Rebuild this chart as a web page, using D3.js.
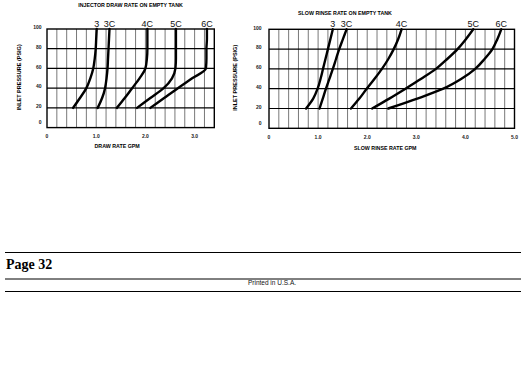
<!DOCTYPE html>
<html><head><meta charset="utf-8">
<script src="https://cdn.jsdelivr.net/npm/d3@7"></script>
<style>
body{margin:0;background:#fff}
svg{display:block}
</style>
</head><body>
<svg id="c" width="521" height="384" font-family="'Liberation Sans',Arial,Helvetica,sans-serif"></svg>
<script>
// ---------- data ----------
const curveNames = ["3", "3C", "4C", "5C", "6C"];
const pressureTicks = [0, 20, 40, 60, 80, 100];
const pressurePoints = [20, 30, 40, 50, 60, 70, 80, 90, 100];

// Injector draw rate on empty tank (GPM at each pressure point)
const draw3  = [0.53, 0.67, 0.80, 0.88, 0.94, 0.97, 0.99, 1.00, 1.01];
const draw3C = [1.03, 1.12, 1.18, 1.21, 1.23, 1.24, 1.25, 1.26, 1.27];
const draw4C = [1.42, 1.58, 1.73, 1.88, 2.00, 2.03, 2.04, 2.04, 2.04];
const draw5C = [1.83, 2.10, 2.37, 2.54, 2.61, 2.62, 2.62, 2.62, 2.62];
const draw6C = [2.10, 2.38, 2.66, 2.95, 3.23, 3.24, 3.24, 3.25, 3.25];

// Slow rinse rate on empty tank (GPM at each pressure point)
const rinse3  = [0.755, 0.90, 0.99, 1.05, 1.10, 1.15, 1.20, 1.25, 1.30];
const rinse3C = [1.03, 1.095, 1.16, 1.23, 1.30, 1.365, 1.43, 1.505, 1.58];
const rinse4C = [1.67, 1.84, 1.99, 2.15, 2.30, 2.43, 2.54, 2.63, 2.70];
const rinse5C = [2.10, 2.45, 2.78, 3.10, 3.40, 3.63, 3.84, 4.01, 4.16];
const rinse6C = [2.43, 3.02, 3.55, 3.92, 4.20, 4.39, 4.55, 4.65, 4.73];

const drawTicks = [0, 1, 2, 3];
const drawTickLabels = ["0", "1.0", "2.0", "3.0"];
const rinseTicks = [0, 1, 2, 3, 4, 5];
const rinseTickLabels = ["0", "1.0", "2.0", "3.0", "4.0", "5.0"];

const footerPage = "Page 32";
const footerPrinted = "Printed in U.S.A.";

// ---------- drawing ----------
const svg = d3.select("#c");

function drawChart(cfg) {
  const x = d3.scaleLinear().domain([0, cfg.xMax]).range([cfg.left, cfg.right]);
  const y = d3.scaleLinear().domain([0, 100]).range([cfg.bottom, cfg.top]);
  const g = svg.append("g");

  // vertical minor grid every 0.2 GPM
  const vgrid = d3.range(1, Math.round(cfg.xMax / 0.2)).map(i => +(i * 0.2).toFixed(2));
  g.selectAll(".vg").data(vgrid).join("line")
    .attr("x1", d => x(d)).attr("x2", d => x(d))
    .attr("y1", y(0)).attr("y2", y(100))
    .attr("stroke", "#6a6a6a").attr("stroke-width", 0.9);

  // horizontal grid
  g.selectAll(".hg").data(pressureTicks.filter(v => v > 0 && v < 100)).join("line")
    .attr("x1", x(0)).attr("x2", x(cfg.xMax))
    .attr("y1", d => y(d)).attr("y2", d => y(d))
    .attr("stroke", "#000").attr("stroke-width", 1.2);

  // frame
  g.append("rect")
    .attr("x", x(0)).attr("y", y(100))
    .attr("width", x(cfg.xMax) - x(0)).attr("height", y(0) - y(100))
    .attr("fill", "none").attr("stroke", "#000").attr("stroke-width", 1.4);

  // curves
  const line = d3.line()
    .x(d => x(d[0])).y(d => y(d[1]))
    .curve(d3.curveMonotoneY);
  cfg.series.forEach((vals, i) => {
    const pts = vals.map((v, j) => [v, pressurePoints[j]]);
    g.append("path").attr("d", line(pts))
      .attr("fill", "none").attr("stroke", "#000")
      .attr("stroke-width", 2.4).attr("stroke-linecap", "round").attr("stroke-linejoin", "round");
    g.append("text")
      .attr("x", x(vals[vals.length - 1]))
      .attr("y", y(100) - 2)
      .attr("text-anchor", "middle")
      .attr("font-size", 9).attr("fill", "#111")
      .text(curveNames[i]);
  });

  // y tick labels
  g.selectAll(".yl").data(pressureTicks).join("text")
    .attr("x", x(0) - cfg.yLabelGap)
    .attr("y", d => y(d) + (d === 0 ? -3.5 : 0.3))
    .attr("text-anchor", "end")
    .attr("font-size", 5).attr("font-weight", "bold").attr("fill", "#222")
    .text(d => d);

  // x tick labels
  g.selectAll(".xl").data(cfg.xTicks).join("text")
    .attr("x", d => x(d))
    .attr("y", cfg.xLabelY)
    .attr("text-anchor", "middle")
    .attr("font-size", 5).attr("font-weight", "bold").attr("fill", "#222")
    .text((d, i) => cfg.xTickLabels[i]);

  // titles
  g.append("text").attr("x", cfg.titleX).attr("y", cfg.titleY)
    .attr("text-anchor", "middle").attr("font-size", 5.3).attr("font-weight", "bold")
    .text(cfg.title);
  g.append("text").attr("x", (x(0) + x(cfg.xMax)) / 2 + cfg.xTitleDx).attr("y", cfg.xTitleY)
    .attr("text-anchor", "middle").attr("font-size", 5.3).attr("font-weight", "bold")
    .text(cfg.xTitle);
  g.append("text")
    .attr("transform", `translate(${cfg.yTitleX},${(y(0) + y(100)) / 2 - 1}) rotate(-90)`)
    .attr("text-anchor", "middle").attr("dy", "0.35em")
    .attr("font-size", 5.5).attr("font-weight", "bold")
    .text("INLET PRESSURE (PSIG)");
}

drawChart({
  left: 47, right: 214.3, top: 29, bottom: 127.6, xMax: 3.4,
  series: [draw3, draw3C, draw4C, draw5C, draw6C],
  xTicks: drawTicks, xTickLabels: drawTickLabels,
  yLabelGap: 5.5, xLabelY: 137.5,
  title: "INJECTOR DRAW RATE ON EMPTY TANK", titleX: 130.5, titleY: 7,
  xTitle: "DRAW RATE GPM", xTitleY: 147.8, xTitleDx: -13.5,
  yTitleX: 19
});

drawChart({
  left: 269, right: 514.5, top: 29.3, bottom: 128.3, xMax: 5,
  series: [rinse3, rinse3C, rinse4C, rinse5C, rinse6C],
  xTicks: rinseTicks, xTickLabels: rinseTickLabels,
  yLabelGap: 7.5, xLabelY: 138.6,
  title: "SLOW RINSE RATE ON EMPTY TANK", titleX: 345, titleY: 15.2,
  xTitle: "SLOW RINSE RATE GPM", xTitleY: 150.2, xTitleDx: -6.5,
  yTitleX: 235
});

// footer
const foot = svg.append("g");
[252.5, 279, 291.5].forEach(yy => {
  foot.append("line").attr("x1", 5).attr("x2", 521).attr("y1", yy).attr("y2", yy)
    .attr("stroke", "#000").attr("stroke-width", 1);
});
foot.append("text").attr("x", 6).attr("y", 268.5)
  .attr("font-family", "'Liberation Serif','Times New Roman',Times,serif")
  .attr("font-size", 14).attr("font-weight", "bold").text(footerPage);
foot.append("text").attr("x", 272).attr("y", 285)
  .attr("text-anchor", "middle").attr("font-size", 6.5).attr("fill", "#111")
  .text(footerPrinted);
</script>
</body></html>
